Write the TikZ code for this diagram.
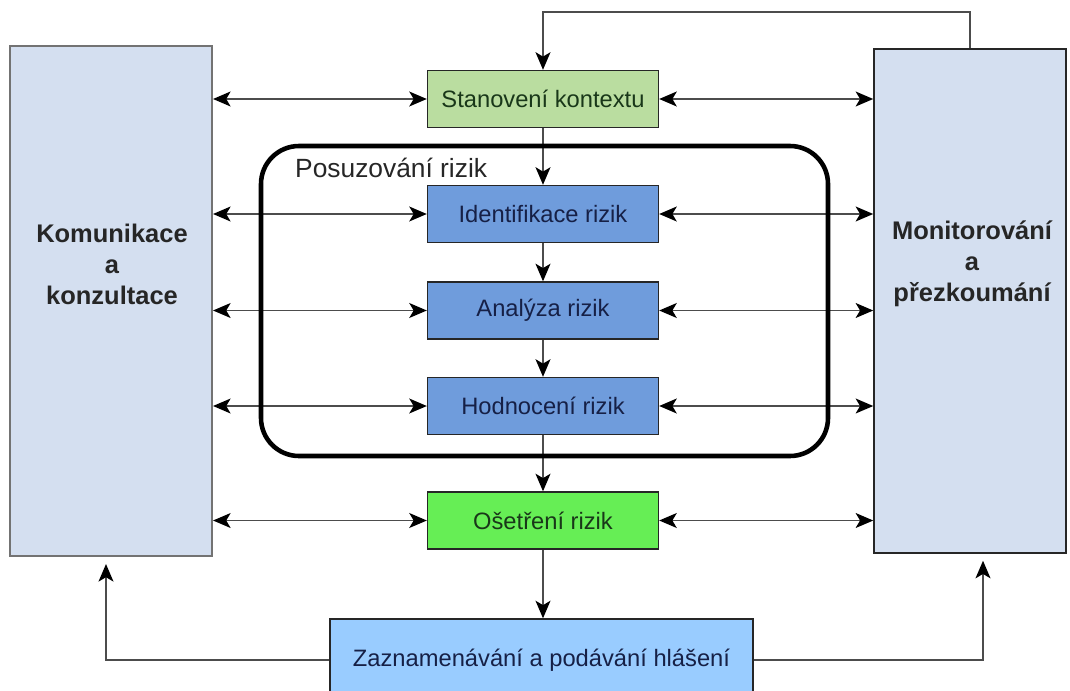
\documentclass[tikz,border=0pt]{standalone}
\usepackage{fontspec}
\setmainfont{Liberation Sans}
\usetikzlibrary{arrows.meta}

\definecolor{bleupale}{RGB}{212,223,240}
\definecolor{vertpale}{RGB}{186,221,160}
\definecolor{bleumoyen}{RGB}{111,156,220}
\definecolor{vertvif}{RGB}{102,238,85}
\definecolor{bleuciel}{RGB}{153,204,255}
\definecolor{encrevert}{RGB}{25,55,25}
\definecolor{encrebleu}{RGB}{22,32,70}

\begin{document}
\begin{tikzpicture}[x=0.02cm,y=-0.02cm,
    >={Stealth[length=10pt,width=8.5pt,inset=2.5pt,color=black]},
    boite/.style={draw=black!85,line width=0.8pt,minimum width=4.62cm,minimum height=1.14cm,inner sep=0pt,font=\fontsize{13.5}{16}\selectfont},
    cote/.style={draw,fill=bleupale},
    etiquette/.style={align=center,font=\fontsize{14.5}{17.6}\selectfont\bfseries,text=black!85},
    fleche/.style={draw=black!70,line width=0.9pt,->},
    dfleche/.style={draw=black!70,line width=0.9pt,<->}]
      \clip (0,0) rectangle (1070,690);
      \fill[white] (0,0) rectangle (1070,690);

      % COLONNES LATERALES
      \node[cote,draw=black!55,line width=1.2pt,minimum width=4.04cm,minimum height=10.2cm] (K) at (111,301) {};
      \node[cote,draw=black!85,line width=0.9pt,minimum width=3.84cm,minimum height=10.08cm] (M) at (970,301) {};
      \node[etiquette] (Ktxt) at (112,264) {Komunikace\\a\\konzultace};
      \node[etiquette] (Mtxt) at (972,264) {Monitorování\\a\\přezkoumání};

      % ETAPES CENTRALES
      \node[boite,fill=vertpale,text=encrevert] (S) at (543,99) {Stanovení kontextu};
      \node[boite,fill=bleumoyen,text=encrebleu] (I) at (543,214) {Identifikace rizik};
      \node[boite,fill=bleumoyen,text=encrebleu] (A) at (543,310.5) {Analýza rizik};
      \node[boite,fill=bleumoyen,text=encrebleu] (H) at (543,406) {Hodnocení rizik};
      \node[boite,fill=vertvif,text=encrevert] (O) at (543,520.5) {Ošetření rizik};
      \node[boite,fill=bleuciel,text=encrebleu,minimum width=8.46cm,minimum height=1.64cm] (Z) at (541.5,660) {Zaznamenávání a podávání hlášení};

      % FLECHES HORIZONTALES
      \foreach \n in {S,I,A,H,O} {
        \draw[dfleche] (K.east |- \n.west) -- (\n.west);
        \draw[dfleche] (\n.east) -- (M.west |- \n.east);
      }

      % FLECHES VERTICALES
      \draw[fleche] (S.south) -- (I.north);
      \draw[fleche] (I.south) -- (A.north);
      \draw[fleche] (A.south) -- (H.north);
      \draw[fleche] (H.south) -- (O.north);
      \draw[fleche] (O.south) -- (O.south |- Z.north);

      % RETOURS
      \draw[fleche] (M.north) -- ++(0,-36) -| (S.north);
      \draw[fleche,shorten >=0.14cm] (Z.west) -| ([xshift=-0.1cm]K.south);
      \draw[fleche,shorten >=0.14cm] (Z.east) -| ([xshift=0.26cm]M.south);

      % CADRE POSUZOVANI
      \draw[line width=2.6pt,rounded corners=0.76cm] (261,146) rectangle (828,456);
      \node[anchor=west,font=\fontsize{15}{18}\selectfont,text=black!85] (P) at (289,168) {Posuzování rizik};
\end{tikzpicture}
\end{document}
